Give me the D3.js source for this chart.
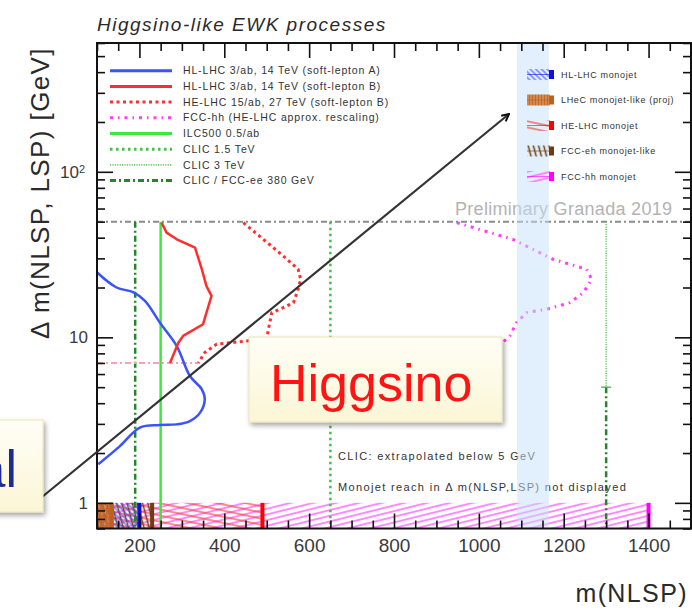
<!DOCTYPE html>
<html>
<head>
<meta charset="utf-8">
<script src="https://cdn.jsdelivr.net/npm/d3@7"></script>
<style>
  body { margin: 0; background: #fff; }
  svg { display: block; font-family: "Liberation Sans", Arial, sans-serif; }
</style>
</head>
<body>
<svg id="chart" width="692" height="616"></svg>
<script>
// values: m(NLSP) in GeV, delta m in GeV
const xDomain = [100, 1500]
const yDomain = [0.7, 600]
const xMajorTicks = [200, 400, 600, 800, 1000, 1200, 1400]
const yMajorTicks = [1, 10, 100]

const curveLabels = [
  "HL-LHC 3/ab, 14 TeV (soft-lepton A)",
  "HL-LHC 3/ab, 14 TeV (soft-lepton B)",
  "HE-LHC 15/ab, 27 TeV (soft-lepton B)",
  "FCC-hh (HE-LHC approx. rescaling)",
  "ILC500 0.5/ab",
  "CLIC 1.5 TeV",
  "CLIC 3 TeV",
  "CLIC / FCC-ee 380 GeV"
]

const hlLhcA = [[99, 24.8], [146, 20], [186, 18.7], [213, 16.6], [248, 12.3], [288, 8.86], [319, 5.84],
  [347, 4.85], [354, 4.22], [343, 3.51], [319, 3.12], [288, 2.98], [248, 2.95], [201, 2.85],
  [154, 2.2], [103, 1.71]]
const hlLhcB = [[252, 49.3], [264, 42.9], [288, 39.1], [331, 34.8], [347, 25.8], [358, 20.4], [370, 17.8],
  [358, 14.1], [350, 12.0], [303, 10.2], [292, 9.3], [272, 7.0]]
const heLhcB = [[445, 49.3], [492, 39.1], [539, 31], [574, 25.8], [580, 22.4], [574, 19.5], [563, 16.2],
  [539, 15.1], [512, 14.1], [504, 11.2], [500, 9.7], [453, 9.5], [382, 9.1], [354, 8.1], [339, 7.0]]
const heLhcLow = [[100, 7.0], [339, 7.0]]
const fccHh = [[948, 49.3], [1081, 39], [1175, 29.6], [1254, 25.8], [1266, 22.4], [1246, 18.6], [1215, 16.2],
  [1160, 14.8], [1113, 14.1], [1089, 12.3], [1073, 10.2], [1058, 9.4]]

const ilc500Mass = 250
const clic15Mass = 650
const clic3Mass = 1300
const clic380Mass = 190
const dmCeiling = 50
const clicExtrapBelow = 5

const monojetLabels = ["HL-LHC monojet", "LHeC monojet-like (proj)", "HE-LHC monojet",
  "FCC-eh monojet-like", "FCC-hh monojet"]
const monojetReach = [200, 135, 490, 230, 1400]
const monojetDmTop = 1.0
const monojetBand = [1090, 1165]

const notes = ["CLIC: extrapolated below 5 GeV", "Monojet reach in \u0394 m(NLSP,LSP) not displayed"]

// ---- styles ----
const curveStyle = [
  { stroke: "#3a52ff", width: 2.5, dash: null },
  { stroke: "#ff2e2e", width: 2.5, dash: null },
  { stroke: "#ff2e2e", width: 3, dash: "3,3.5" },
  { stroke: "#ff3cff", width: 3, dash: "3,5,1.5,5" },
  { stroke: "#3ee83e", width: 2.5, dash: null },
  { stroke: "#44c044", width: 2.5, dash: "2.5,3.5" },
  { stroke: "#6ccf6c", width: 1.6, dash: "1.2,1.2" },
  { stroke: "#23862a", width: 2.5, dash: "6,3,2,3" }
]
const monoStyle = [
  { pattern: "hatch-blue", bar: "#1010d0" },
  { pattern: "hatch-tan", bar: "#c0601a" },
  { pattern: "hatch-red", bar: "#ff0000" },
  { pattern: "hatch-brown", bar: "#6e3c10" },
  { pattern: "hatch-magenta", bar: "#ff00ff" }
]

const svg = d3.select("#chart")
const x = d3.scaleLinear().domain(xDomain).range([97, 691])
const y = d3.scaleLog().domain(yDomain).range([528.5, 43])
const yTop = y(yDomain[1]), yBottom = y(yDomain[0]), xLeft = x(xDomain[0]), xRight = x(xDomain[1])

// ---- pattern defs ----
const defs = svg.append("defs")
function linePattern(id, color, spacing, width, angle, opacity) {
  const p = defs.append("pattern").attr("id", id)
    .attr("patternUnits", "userSpaceOnUse")
    .attr("width", 10).attr("height", spacing)
    .attr("patternTransform", `rotate(${angle})`)
  p.append("line").attr("x1", 0).attr("x2", 10).attr("y1", spacing / 2).attr("y2", spacing / 2)
    .attr("stroke", color).attr("stroke-width", width).attr("stroke-opacity", opacity)
}
linePattern("hatch-magenta", "#ff6cff", 5.5, 2, -14, 0.8)
linePattern("hatch-red", "#ff3d3d", 6, 1.6, 12, 0.75)
linePattern("hatch-blue", "#3a52ff", 4, 1.2, 45, 0.9)
linePattern("hatch-brown", "#7a4515", 5, 1.6, 75, 1)
linePattern("hatch-tan", "#c8681e", 3, 2.5, 90, 1)

const grad = defs.append("linearGradient").attr("id", "boxfill")
  .attr("x1", 0).attr("x2", 0).attr("y1", 0).attr("y2", 1)
grad.append("stop").attr("offset", "0%").attr("stop-color", "#fffef6")
grad.append("stop").attr("offset", "100%").attr("stop-color", "#fbf6d6")
defs.append("filter").attr("id", "shadow").attr("x", -0.1).attr("y", -0.1).attr("width", 1.3).attr("height", 1.4)
  .append("feDropShadow").attr("dx", 2).attr("dy", 3).attr("stdDeviation", 2.5)
  .attr("flood-color", "#000").attr("flood-opacity", 0.35)

const marker = defs.append("marker").attr("id", "arrowhead")
  .attr("viewBox", "0 0 10 10").attr("refX", 9).attr("refY", 5)
  .attr("markerWidth", 9).attr("markerHeight", 9).attr("orient", "auto")
  .attr("markerUnits", "userSpaceOnUse")
marker.append("path").attr("d", "M1,1 L9,5 L1,9").attr("fill", "none")
  .attr("stroke", "#111").attr("stroke-width", 2.2)

// ---- monojet reach strip (drawn widest first) ----
const strip = svg.append("g")
const stripOrder = [4, 2, 3, 0, 1]
stripOrder.forEach(i => {
  strip.append("rect")
    .attr("x", x(xDomain[0])).attr("width", x(monojetReach[i]) - x(xDomain[0]))
    .attr("y", y(monojetDmTop)).attr("height", yBottom - y(monojetDmTop))
    .attr("fill", `url(#${monoStyle[i].pattern})`)
})
stripOrder.forEach(i => {
  strip.append("rect")
    .attr("x", x(monojetReach[i]) - 2).attr("width", 4)
    .attr("y", y(monojetDmTop)).attr("height", yBottom - y(monojetDmTop))
    .attr("fill", monoStyle[i].bar)
})

// ---- lines and curves ----
const plot = svg.append("g")
plot.append("line")
  .attr("x1", xLeft).attr("x2", xRight).attr("y1", y(dmCeiling)).attr("y2", y(dmCeiling))
  .attr("stroke", "#8a8a8a").attr("stroke-width", 2).attr("stroke-dasharray", "6,3,2,3")

function vline(mass, dmHigh, dmLow, st) {
  plot.append("line")
    .attr("x1", x(mass)).attr("x2", x(mass)).attr("y1", y(dmHigh)).attr("y2", y(dmLow))
    .attr("stroke", st.stroke).attr("stroke-width", st.width)
    .attr("stroke-dasharray", st.dash)
}
vline(clic380Mass, dmCeiling, yDomain[0], curveStyle[7])
vline(clic15Mass, dmCeiling, yDomain[0], curveStyle[5])
vline(clic3Mass, dmCeiling, clicExtrapBelow, curveStyle[6])
vline(clic3Mass, clicExtrapBelow, yDomain[0], curveStyle[7])
plot.append("line")
  .attr("x1", x(clic3Mass) - 5).attr("x2", x(clic3Mass) + 5)
  .attr("y1", y(clicExtrapBelow)).attr("y2", y(clicExtrapBelow))
  .attr("stroke", "#44a044").attr("stroke-width", 1.2)
vline(ilc500Mass, dmCeiling, yDomain[0], curveStyle[4])

const line = d3.line().x(d => x(d[0])).y(d => y(d[1]))
const smooth = d3.line().x(d => x(d[0])).y(d => y(d[1])).curve(d3.curveCatmullRom.alpha(0.5))

plot.append("path").datum(heLhcLow).attr("d", line)
  .attr("fill", "none").attr("stroke", "#f6a3b4").attr("stroke-width", 2)
  .attr("stroke-dasharray", "6,3,2,3")

const curves = [[hlLhcA, 0, smooth], [hlLhcB, 1, line], [heLhcB, 2, line], [fccHh, 3, line]]
curves.forEach(([data, i, gen]) => {
  const st = curveStyle[i]
  plot.append("path").datum(data).attr("d", gen)
    .attr("fill", "none").attr("stroke", st.stroke).attr("stroke-width", st.width)
    .attr("stroke-dasharray", st.dash).attr("stroke-linejoin", "round")
})

// ---- texts inside frame ----
svg.append("text").attr("x", 455).attr("y", 215)
  .attr("font-size", 18).attr("letter-spacing", 0.3).attr("fill", "#b3b3b3")
  .text("Preliminary Granada 2019")

notes.forEach((t, i) => {
  svg.append("text").attr("x", 338).attr("y", 460 + i * 31)
    .attr("font-size", 11).attr("letter-spacing", 1.35).attr("fill", "#333")
    .text(t)
})

// translucent monojet band
svg.append("rect")
  .attr("x", x(monojetBand[0])).attr("width", x(monojetBand[1]) - x(monojetBand[0]))
  .attr("y", yTop).attr("height", yBottom - yTop)
  .attr("fill", "#c6e0fa").attr("fill-opacity", 0.5)

// ---- left legend ----
const legL = svg.append("g")
curveLabels.forEach((label, i) => {
  const st = curveStyle[i]
  const ly = 70.7 + i * 15.7
  legL.append("line").attr("x1", 110).attr("x2", 172).attr("y1", ly).attr("y2", ly)
    .attr("stroke", st.stroke).attr("stroke-width", st.width === 1.6 ? 1.6 : 3)
    .attr("stroke-dasharray", st.dash)
  legL.append("text").attr("x", 183).attr("y", ly + 3.6)
    .attr("font-size", 10.5).attr("letter-spacing", 0.85).attr("fill", "#333")
    .text(label)
})

// ---- right legend ----
const legR = svg.append("g")
monojetLabels.forEach((label, i) => {
  const ly = 74.5 + i * 25.5
  legR.append("rect").attr("x", 527).attr("y", ly - 5.5).attr("width", 23).attr("height", 11)
    .attr("fill", `url(#${monoStyle[i].pattern})`)
  legR.append("line").attr("x1", 527).attr("x2", 551).attr("y1", ly).attr("y2", ly)
    .attr("stroke", monoStyle[i].bar).attr("stroke-width", 1).attr("stroke-opacity", 0.6)
  legR.append("rect").attr("x", 549).attr("y", ly - 4.5).attr("width", 5).attr("height", 9)
    .attr("fill", monoStyle[i].bar)
  legR.append("text").attr("x", 561).attr("y", ly + 3.3)
    .attr("font-size", 9).attr("letter-spacing", 0.65).attr("fill", "#333")
    .text(label)
})

// ---- axes: ticks on all four sides, pointing inward ----
const xMinor = d3.range(xDomain[0], xDomain[1] + 1, 50).filter(v => !xMajorTicks.includes(v))
const yMinor = y.ticks().filter(v => !yMajorTicks.includes(v))

function tickStyle(g) {
  g.select(".domain").remove()
  g.selectAll(".tick line").attr("stroke", "#111").attr("stroke-width", 1.6)
  g.selectAll(".tick text").attr("fill", "#3a3a3a").attr("font-family", "Liberation Sans, Arial, sans-serif")
}

svg.append("g").attr("transform", `translate(0,${yBottom})`)
  .call(d3.axisBottom(x).tickValues(xMinor).tickSize(-8).tickFormat("")).call(tickStyle)
svg.append("g").attr("transform", `translate(0,${yBottom})`)
  .call(d3.axisBottom(x).tickValues(xMajorTicks).tickSize(-15).tickPadding(10).tickFormat(d3.format("d")))
  .call(tickStyle)
  .selectAll(".tick text").attr("font-size", 19)

svg.append("g").attr("transform", `translate(0,${yTop})`)
  .call(d3.axisTop(x).tickValues(xMinor).tickSize(-8).tickFormat("")).call(tickStyle)
svg.append("g").attr("transform", `translate(0,${yTop})`)
  .call(d3.axisTop(x).tickValues(xMajorTicks).tickSize(-15).tickFormat("")).call(tickStyle)

svg.append("g").attr("transform", `translate(${xLeft},0)`)
  .call(d3.axisLeft(y).tickValues(yMinor).tickSize(-8).tickFormat("")).call(tickStyle)
const yMaj = svg.append("g").attr("transform", `translate(${xLeft},0)`)
  .call(d3.axisLeft(y).tickValues(yMajorTicks).tickSize(-16).tickPadding(9).tickFormat(d => d >= 100 ? "10" : String(d)))
  .call(tickStyle)
yMaj.selectAll(".tick text").attr("font-size", 17)
yMaj.selectAll(".tick text").filter(d => d >= 100)
  .attr("x", -12)
  .append("tspan").attr("dy", "-0.45em").attr("font-size", 11).text(d => Math.round(Math.log10(d)))

svg.append("g").attr("transform", `translate(${xRight},0)`)
  .call(d3.axisRight(y).tickValues(yMinor).tickSize(-8).tickFormat("")).call(tickStyle)
svg.append("g").attr("transform", `translate(${xRight},0)`)
  .call(d3.axisRight(y).tickValues(yMajorTicks).tickSize(-16).tickFormat("")).call(tickStyle)

svg.append("rect").attr("x", xLeft).attr("y", yTop).attr("width", xRight - xLeft).attr("height", yBottom - yTop)
  .attr("fill", "none").attr("stroke", "#111").attr("stroke-width", 2)

// ---- titles ----
svg.append("text").attr("x", 97).attr("y", 31)
  .attr("font-size", 19).attr("font-style", "italic").attr("letter-spacing", 1.5).attr("fill", "#2a2a2a")
  .text("Higgsino-like EWK processes")

svg.append("text").attr("transform", "translate(49,193) rotate(-90)")
  .attr("text-anchor", "middle").attr("font-size", 26).attr("letter-spacing", 1.4).attr("fill", "#2a2a2a")
  .text("\u0394 m(NLSP, LSP) [GeV]")

svg.append("text").attr("x", 688).attr("y", 602).attr("text-anchor", "end")
  .attr("font-size", 25).attr("letter-spacing", 1.4).attr("fill", "#2a2a2a")
  .text("m(NLSP)")

// ---- slide overlays ----
svg.append("line").attr("x1", 42).attr("y1", 497).attr("x2", 509).attr("y2", 114)
  .attr("stroke", "#333").attr("stroke-width", 2.2).attr("marker-end", "url(#arrowhead)")

const hbox = svg.append("g")
hbox.append("rect").attr("x", 249).attr("y", 337).attr("width", 253).attr("height", 85)
  .attr("fill", "url(#boxfill)").attr("stroke", "#ece4b8").attr("stroke-width", 1)
  .attr("filter", "url(#shadow)")
hbox.append("text").attr("x", 270).attr("y", 401)
  .attr("font-size", 52).attr("fill", "#ff1414").text("Higgsino")

const abox = svg.append("g")
abox.append("rect").attr("x", -10).attr("y", 420).attr("width", 53).attr("height", 92)
  .attr("fill", "url(#boxfill)").attr("stroke", "#ece4b8").attr("stroke-width", 1)
  .attr("filter", "url(#shadow)")
abox.append("text").attr("x", 17).attr("y", 487).attr("text-anchor", "end")
  .attr("font-size", 52).attr("fill", "#1f2b8f").text("al")
</script>
</body>
</html>
